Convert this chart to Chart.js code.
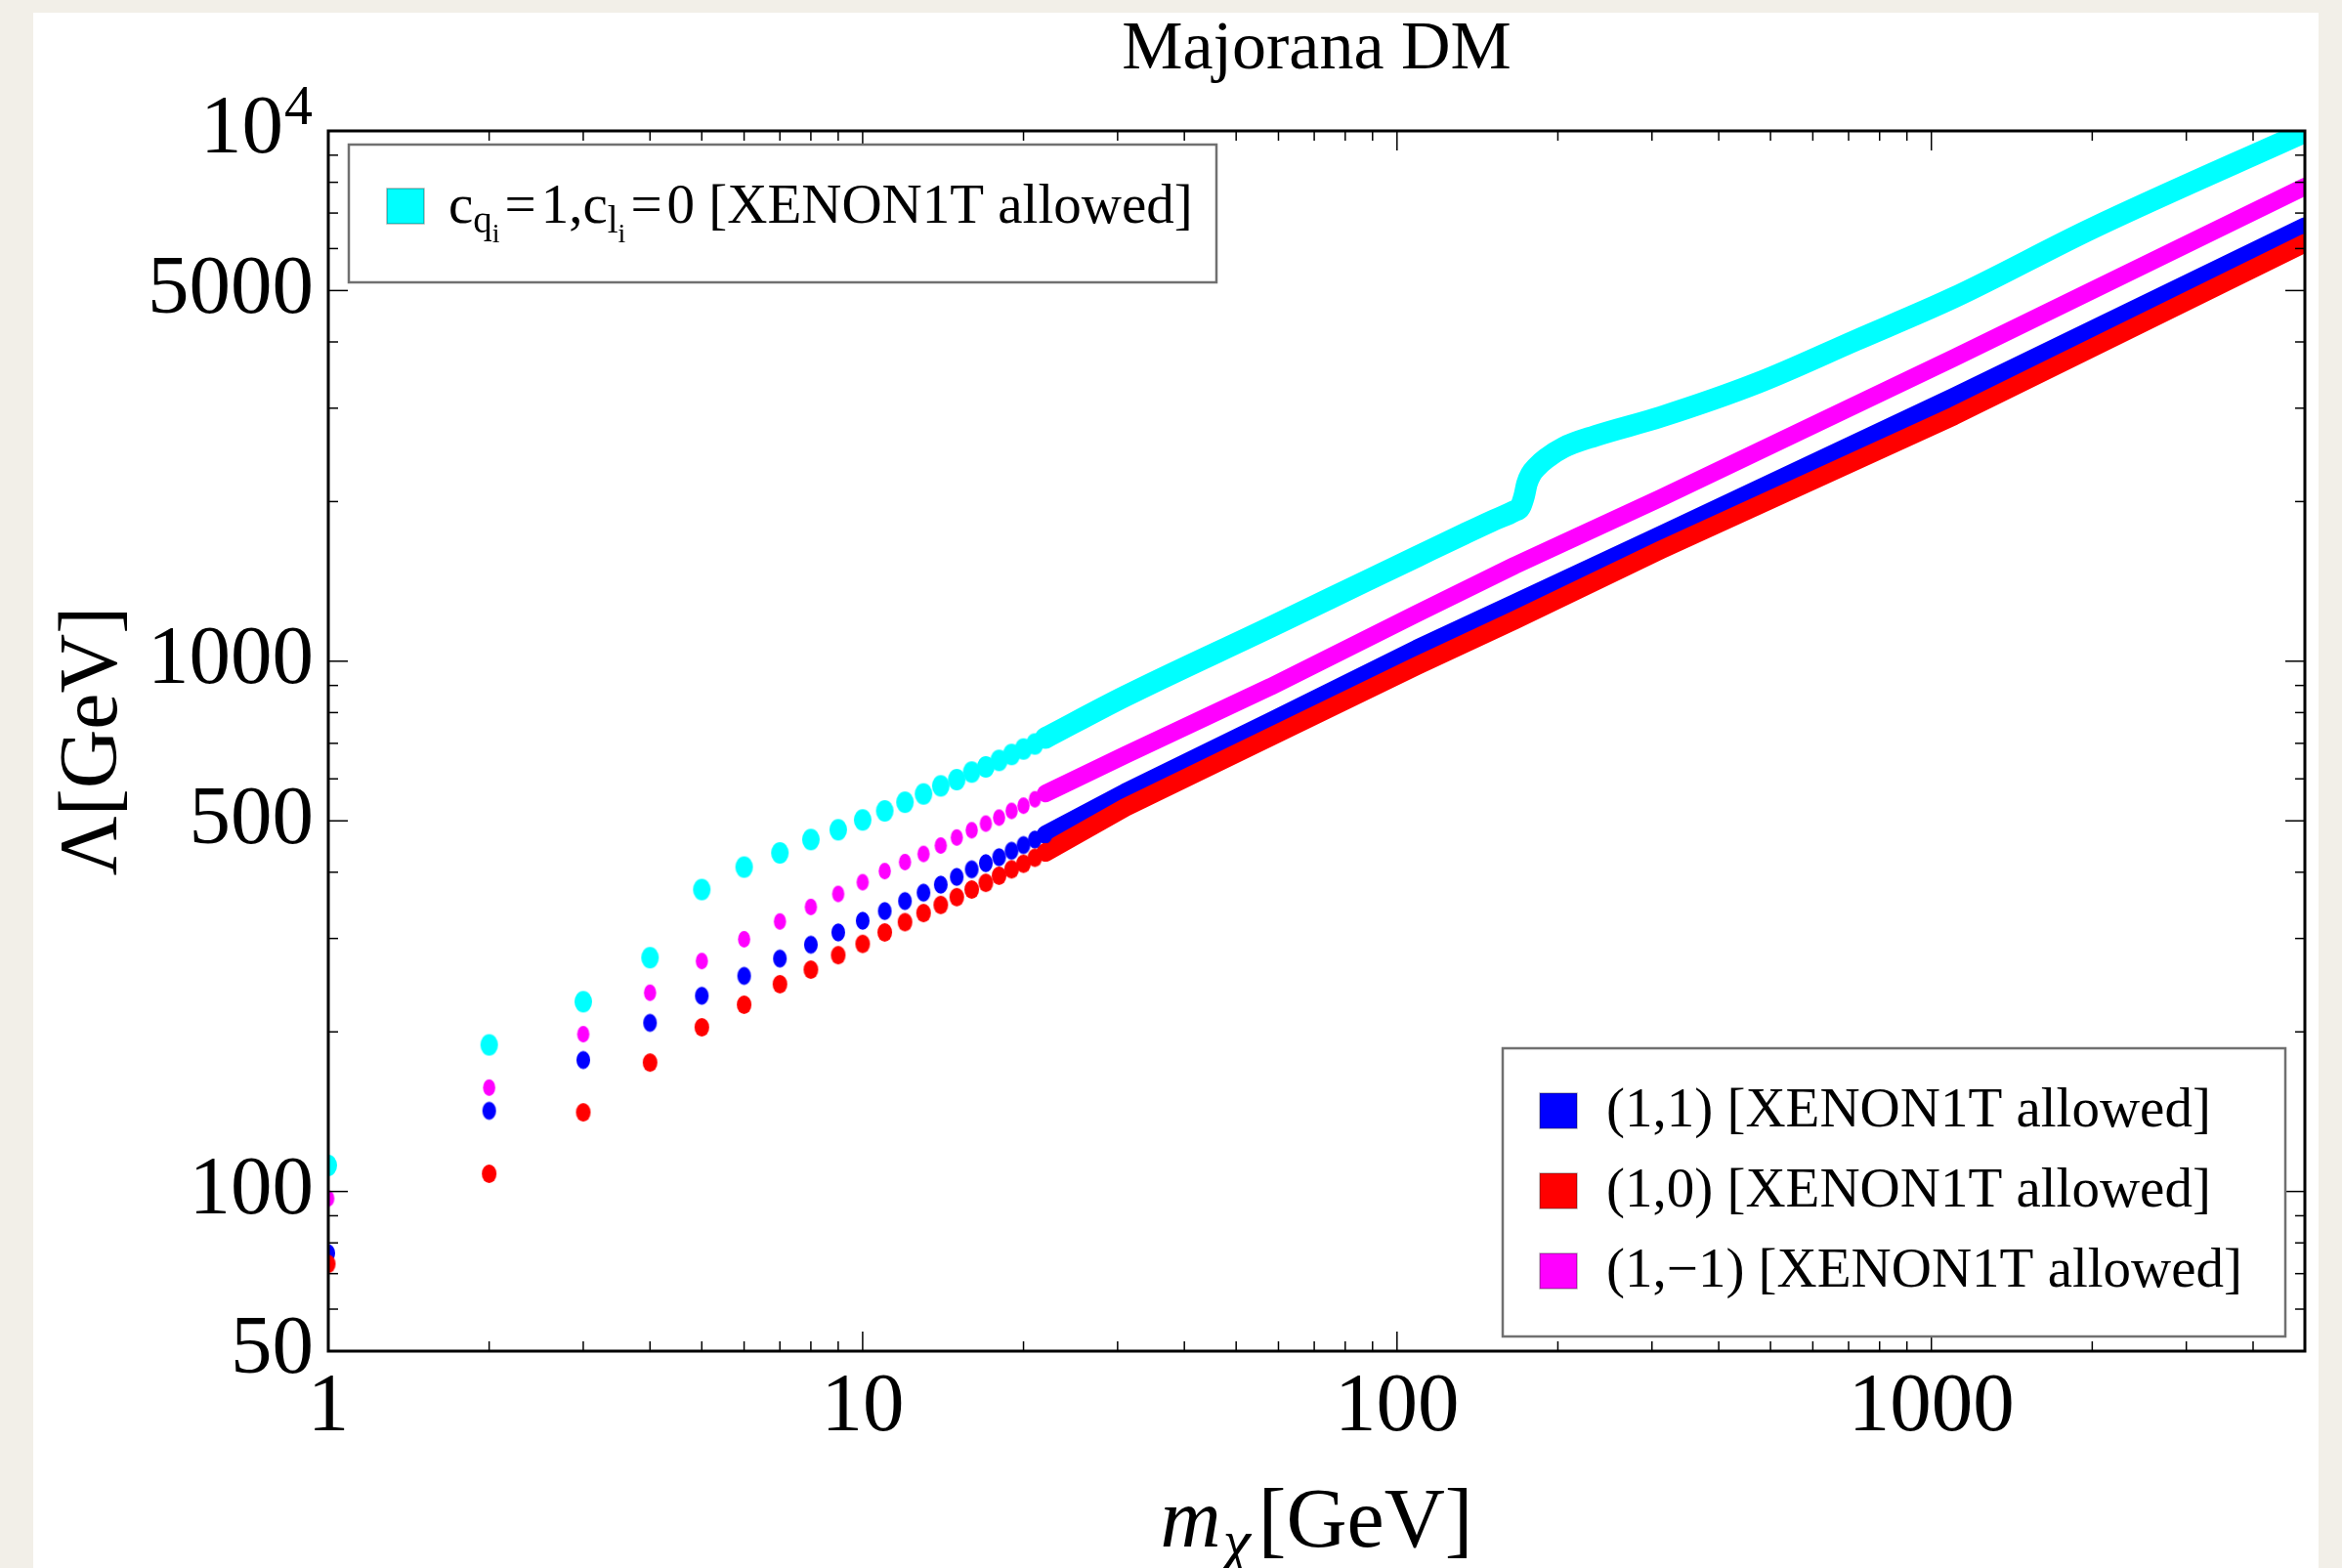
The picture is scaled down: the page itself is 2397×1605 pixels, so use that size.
<!DOCTYPE html>
<html>
<head>
<meta charset="utf-8">
<title>Majorana DM</title>
<script src="https://cdn.jsdelivr.net/npm/chart.js@4.4.1/dist/chart.umd.min.js"></script>
<style>
  html, body { margin: 0; padding: 0; background: #f2efe8; overflow: hidden; }
  #panel { position: absolute; left: 34px; top: 13px; width: 2339px; height: 1592px; background: #ffffff; }
  #c { position: absolute; left: 0; top: 0; }
</style>
</head>
<body>
<div id="panel"></div>
<canvas id="c" width="2397" height="1605"></canvas>
<script>
// Dark-matter mass grid where the scan points are still resolved as separate dots (GeV)
const massDots = [1, 2, 3, 4, 5, 6, 7, 8, 9, 10, 11, 12, 13, 14, 15, 16, 17, 18, 19, 20, 21, 22];

// Lambda (GeV) for each coupling choice at those masses
const cyanDots    = [112, 189, 228, 276, 371, 409, 435, 461, 481, 502, 522, 542, 562, 582, 598, 618, 632, 650, 667, 683, 698, 717];
const magentaDots = [97, 157, 198, 237, 272, 299, 323, 344, 364, 383, 402, 418, 433, 449, 465, 480, 494, 507, 522, 534, 549, 563];
const blueDots    = [76.5, 142, 177, 208, 234, 255, 275, 292, 308, 324, 338, 353, 366, 379, 392, 405, 416, 427, 439, 450, 461, 471];
const redDots     = [73, 108, 141, 175, 204, 225, 246, 262, 279, 293, 308, 322, 335, 347, 359, 371, 382, 394, 405, 415, 426, 436];

// Dense part of the scan, where neighbouring points merge into a band
const massBand    = [22, 31, 58, 109, 166, 312, 1102, 5000];
const magentaBand = [563, 665, 895, 1230, 1515, 2032, 3733, 7850];
const blueBand    = [471, 565, 770, 1055, 1285, 1730, 3148, 6600];
const redBand     = [436, 530, 720, 980, 1195, 1622, 2900, 6140];

// Quark-only coupling: step at the top-quark threshold
const cyanMass = [22, 31, 58, 88, 109, 134, 150, 166, 170, 173, 175, 178, 183, 190, 205, 235, 312, 474, 723, 1102, 2000, 5000];
const cyanBand = [717, 859, 1160, 1420, 1575, 1740, 1835, 1920, 1950, 2050, 2160, 2250, 2330, 2410, 2530, 2660, 2890, 3350, 4030, 4850, 6550, 9950];

// Axis ticks
const xMajor = [1, 10, 100, 1000];
const xMinor = [2, 3, 4, 5, 6, 7, 8, 9, 20, 30, 40, 50, 60, 70, 80, 90, 200, 300, 400, 500, 600, 700, 800, 900, 2000, 3000, 4000];
const yMajor = [50, 100, 500, 1000, 5000, 10000];
const yMinor = [60, 70, 80, 90, 200, 300, 400, 600, 700, 800, 900, 2000, 3000, 4000, 6000, 7000, 8000, 9000];

const CYAN = '#00ffff', MAGENTA = '#ff00ff', BLUE = '#0000ff', RED = '#ff0000';
const SERIF = "'Liberation Serif', 'DejaVu Serif', serif";

// Slightly tall elliptical markers
function ellipseDot(color, w, h) {
  const c = document.createElement('canvas');
  c.width = Math.ceil(w) + 2;
  c.height = Math.ceil(h) + 2;
  const g = c.getContext('2d');
  g.fillStyle = color;
  g.beginPath();
  g.ellipse(c.width / 2, c.height / 2, w / 2, h / 2, 0, 0, Math.PI * 2);
  g.fill();
  return c;
}

const pairs = (xs, ys) => xs.map((x, i) => ({ x: x, y: ys[i] }));

function dotSet(label, color, values, w, h, order) {
  return {
    type: 'scatter', label: label, data: pairs(massDots, values),
    pointStyle: ellipseDot(color, w, h), pointRadius: Math.max(w, h) / 2,
    showLine: false, clip: 0, order: order
  };
}
function bandSet(label, color, masses, values, width, order, smooth) {
  return {
    type: 'line', label: label, data: pairs(masses, values),
    borderColor: color, borderWidth: width, pointRadius: 0,
    borderCapStyle: 'round', borderJoinStyle: 'round', fill: false,
    cubicInterpolationMode: smooth ? 'monotone' : 'default', tension: 0,
    clip: 0, order: order
  };
}

// Frame with inward ticks on all four sides, plus titles and legends
const framePlugin = {
  id: 'frame',
  afterDatasetsDraw(chart) {
    const { ctx, chartArea: a, scales: { x, y } } = chart;
    ctx.save();
    ctx.strokeStyle = '#000';
    ctx.lineWidth = 1.5;
    const seg = (x1, y1, x2, y2) => { ctx.beginPath(); ctx.moveTo(x1, y1); ctx.lineTo(x2, y2); ctx.stroke(); };
    const xt = (vals, len) => vals.forEach(v => {
      const p = x.getPixelForValue(v);
      seg(p, a.bottom, p, a.bottom - len);
      seg(p, a.top, p, a.top + len);
    });
    const yt = (vals, len) => vals.forEach(v => {
      const p = y.getPixelForValue(v);
      seg(a.left, p, a.left + len, p);
      seg(a.right, p, a.right - len, p);
    });
    xt(xMinor, 10); xt(xMajor, 20);
    yt(yMinor, 10); yt(yMajor, 20);
    ctx.lineWidth = 3;
    ctx.strokeRect(a.left, a.top, a.right - a.left, a.bottom - a.top);
    ctx.restore();
  },
  afterDraw(chart) {
    const { ctx, chartArea: a, scales: { y } } = chart;
    ctx.save();
    ctx.fillStyle = '#000';

    // Title
    ctx.font = `70px ${SERIF}`;
    ctx.textAlign = 'center';
    ctx.textBaseline = 'alphabetic';
    ctx.fillText('Majorana DM', (a.left + a.right) / 2, 70);

    // 10^4 label at the top of the y axis
    const pTop = y.getPixelForValue(10000);
    ctx.font = `85px ${SERIF}`;
    ctx.textAlign = 'right';
    ctx.textBaseline = 'middle';
    ctx.fillText('10', 290, pTop);
    ctx.font = `58px ${SERIF}`;
    ctx.textAlign = 'left';
    ctx.textBaseline = 'alphabetic';
    ctx.fillText('4', 291, pTop - 7);

    // x-axis title: m_chi[GeV]
    const xcx = (a.left + a.right) / 2, xby = 1583;
    ctx.textBaseline = 'alphabetic';
    const fM = `italic 86px ${SERIF}`, fChi = `italic 64px ${SERIF}`, fG = `86px ${SERIF}`;
    ctx.font = fM; const wM = ctx.measureText('m').width;
    ctx.font = fChi; const wC = ctx.measureText('χ').width;
    ctx.font = fG; const wG = ctx.measureText('[GeV]').width;
    let sx = xcx - (wM + 2 + wC + 8 + wG) / 2;
    ctx.textAlign = 'left';
    ctx.font = fM; ctx.fillText('m', sx, xby); sx += wM + 2;
    ctx.font = fChi; ctx.fillText('χ', sx, xby + 16); sx += wC + 8;
    ctx.font = fG; ctx.fillText('[GeV]', sx, xby);

    // y-axis title
    ctx.save();
    ctx.translate(119, (a.top + a.bottom) / 2);
    ctx.rotate(-Math.PI / 2);
    ctx.font = `84px ${SERIF}`;
    ctx.textAlign = 'center';
    ctx.textBaseline = 'alphabetic';
    ctx.fillText('Λ[GeV]', 0, 0);
    ctx.restore();

    // Legend boxes
    const box = (x0, y0, x1, y1) => {
      ctx.fillStyle = '#fff';
      ctx.fillRect(x0, y0, x1 - x0, y1 - y0);
      ctx.strokeStyle = '#707070';
      ctx.lineWidth = 2.5;
      ctx.strokeRect(x0, y0, x1 - x0, y1 - y0);
    };
    const swatch = (x0, y0, color) => {
      ctx.fillStyle = color;
      ctx.fillRect(x0, y0, 38, 36);
      ctx.strokeStyle = 'rgba(0,0,0,0.3)';
      ctx.lineWidth = 1.5;
      ctx.strokeRect(x0, y0, 38, 36);
    };

    // Upper-left legend: c_{q_i}=1, c_{l_i}=0
    box(357, 148, 1245, 289);
    swatch(396, 193, CYAN);
    ctx.fillStyle = '#000';
    ctx.textAlign = 'left';
    ctx.textBaseline = 'alphabetic';
    const base = 228;
    // [text, font size, baseline shift, gap after]
    const runs = [
      ['c', 57, 0, 0], ['q', 39, 10, 0], ['i', 28, 20, 5],
      ['=', 57, 0, 5], ['1,c', 57, 0, 0], ['l', 39, 10, 0], ['i', 28, 20, 5],
      ['=', 57, 0, 5], ['0 [XENON1T allowed]', 57, 0, 0]
    ];
    let tx = 459;
    for (const [s, size, dy, gap] of runs) {
      ctx.font = `${size}px ${SERIF}`;
      ctx.fillText(s, tx, base + dy);
      tx += ctx.measureText(s).width + gap;
    }

    // Lower-right legend
    box(1538, 1073, 2339, 1368);
    const entries = [
      ['(1,1) [XENON1T allowed]', BLUE, 1119],
      ['(1,0) [XENON1T allowed]', RED, 1201],
      ['(1,\u22121) [XENON1T allowed]', MAGENTA, 1283]
    ];
    for (const [label, color, top] of entries) {
      swatch(1576, top, color);
      ctx.fillStyle = '#000';
      ctx.font = `57px ${SERIF}`;
      ctx.fillText(label, 1644, top + 34);
    }
    ctx.restore();
  }
};

const chart = new Chart(document.getElementById('c'), {
  type: 'scatter',
  data: {
    datasets: [
      bandSet('cyan band', CYAN, cyanMass, cyanBand, 22, 8, true),
      bandSet('magenta band', MAGENTA, massBand, magentaBand, 18, 7, false),
      bandSet('blue band', BLUE, massBand, blueBand, 19, 6, false),
      bandSet('red band', RED, massBand, redBand, 19, 5, false),
      dotSet('c_qi=1, c_li=0', CYAN, cyanDots, 18, 22, 4),
      dotSet('(1,-1)', MAGENTA, magentaDots, 12.5, 17, 3),
      dotSet('(1,1)', BLUE, blueDots, 14, 18.5, 2),
      dotSet('(1,0)', RED, redDots, 15, 19, 1)
    ]
  },
  options: {
    responsive: false,
    animation: false,
    devicePixelRatio: 1,
    layout: { padding: { left: 0, right: 2397 - 2359, top: 134, bottom: 0 } },
    plugins: { legend: { display: false }, tooltip: { enabled: false }, title: { display: false } },
    events: [],
    scales: {
      x: {
        type: 'logarithmic', min: 1, max: 5000, position: 'bottom',
        grid: { display: false, drawTicks: false },
        border: { display: false },
        ticks: {
          font: { family: SERIF, size: 85 }, color: '#000', padding: 8,
          maxRotation: 0, minRotation: 0, autoSkip: false,
          callback: v => String(v)
        },
        afterBuildTicks: s => { s.ticks = xMajor.map(v => ({ value: v })); },
        afterFit: s => { s.height = 1605 - 1383; }
      },
      y: {
        type: 'logarithmic', min: 50, max: 10000, position: 'left',
        grid: { display: false, drawTicks: false },
        border: { display: false },
        ticks: {
          font: { family: SERIF, size: 85 }, color: '#000', padding: 15,
          autoSkip: false,
          callback: v => (v === 10000 ? '' : String(v))
        },
        afterBuildTicks: s => { s.ticks = yMajor.map(v => ({ value: v })); },
        afterFit: s => { s.width = 336; }
      }
    }
  },
  plugins: [framePlugin]
});
</script>
</body>
</html>
